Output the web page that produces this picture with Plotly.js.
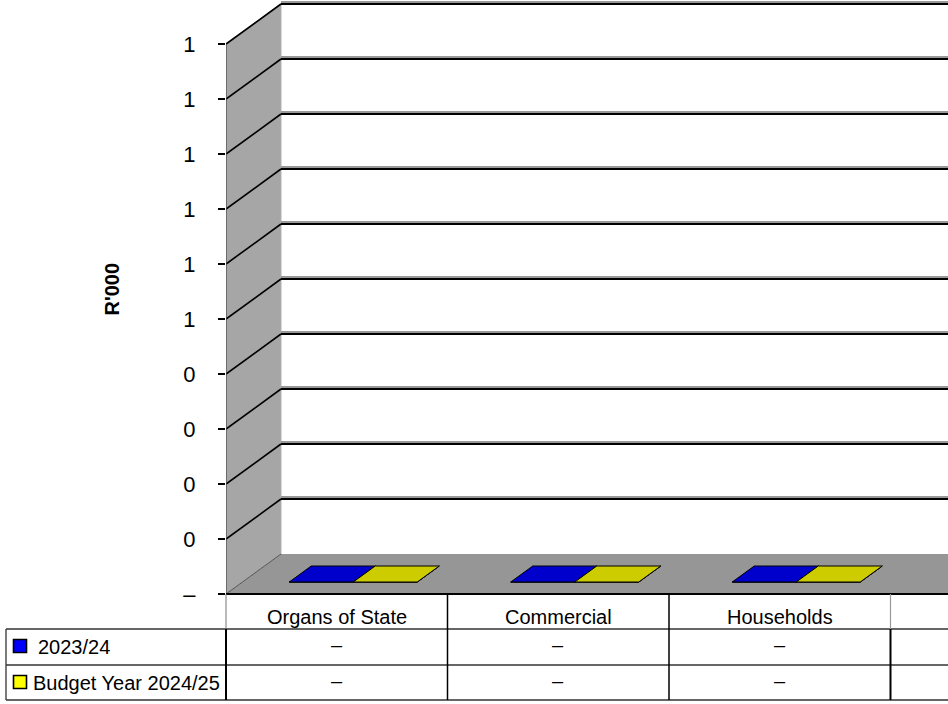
<!DOCTYPE html>
<html>
<head>
<meta charset="utf-8">
<script src="https://cdn.plot.ly/plotly-3.0.1.min.js"></script>
<style>html,body{margin:0;padding:0;background:#fff;}#chart{width:948px;height:704px;}</style>
</head>
<body>
<div id="chart"></div>
<script>
// ---------- DATA ----------
const categories = ['Organs of State', 'Commercial', 'Households'];
const seriesNames = ['2023/24', 'Budget Year 2024/25'];
const values2023 = [0, 0, 0];
const valuesBudget2024 = [0, 0, 0];
const yTickVals = [0, 0.1, 0.2, 0.3, 0.4, 0.5, 0.6, 0.7, 0.8, 0.9, 1.0];
const yTickText = ['–', '0', '0', '0', '0', '1', '1', '1', '1', '1', '1'];
const yAxisTitle = "R'000";

// ---------- STYLE / GEOMETRY ----------
const W = 948, H = 704;
const ML = 226, MB = 110;
const plotW = W - ML, plotH = H - MB;         // 722 x 594
const catPx = 221.5;                          // px per category
const valPx = 550;                            // px per unit value
const xRange = [-0.5, -0.5 + plotW / catPx];
const yRange = [0, plotH / valPx];
const DX = 55 / catPx;                        // depth offset in category units
const DY = 40 / valPx;                        // depth offset in value units
const barW = 64 / catPx;
const d1 = 0.3, d2 = 0.7;                     // bar depth band
const FONT = "'Liberation Sans', Arial, sans-serif";
const barColors = ['#0000CC', '#CCCC00'];
const keyColors = ['#0000FF', '#FFFF00'];
const seriesValues = [values2023, valuesBudget2024];

const px2paperX = px => (px - ML) / plotW;
const py2paperY = py => (plotH - py) / plotH;

function P(x, y, d) { return [x + d * DX, y + d * DY]; }

// ---------- TRACES (bars drawn from data) ----------
const traces = [];
seriesValues.forEach((vals, s) => {
  vals.forEach((v, i) => {
    const x0 = i - barW + s * barW, x1 = x0 + barW;
    const faces = [
      [P(x0, 0, d1), P(x1, 0, d1), P(x1, v, d1), P(x0, v, d1)],          // front
      [P(x1, 0, d1), P(x1, 0, d2), P(x1, v, d2), P(x1, v, d1)],          // side
      [P(x0, v, d1), P(x1, v, d1), P(x1, v, d2), P(x0, v, d2)]           // top
    ];
    faces.forEach(f => {
      const xs = f.map(p => p[0]); xs.push(xs[0]);
      const ys = f.map(p => p[1]); ys.push(ys[0]);
      traces.push({
        type: 'scatter', mode: 'lines', x: xs, y: ys, fill: 'toself',
        fillcolor: barColors[s], line: { color: '#000', width: 1 },
        hoverinfo: 'skip', showlegend: false
      });
    });
  });
});

// ---------- SHAPES (3D walls, grid, table) ----------
const shapes = [];
const xb = xRange[0] + DX;       // back-left x
const xEnd = 4;
// left wall
shapes.push({ type: 'path', xref: 'x', yref: 'y', layer: 'below',
  path: `M ${xRange[0]},0 L ${xRange[0]},1 L ${xb},${1 + DY} L ${xb},${DY} Z`,
  fillcolor: '#A6A6A6', line: { width: 0 } });
// floor
shapes.push({ type: 'path', xref: 'x', yref: 'y', layer: 'below',
  path: `M ${xRange[0]},0 L ${xb},${DY} L ${xEnd},${DY} L ${xEnd},0 Z`,
  fillcolor: '#969696', line: { width: 0 } });
// back wall left edge
shapes.push({ type: 'line', xref: 'x', yref: 'y', layer: 'below', x0: xb, x1: xb, y0: DY, y1: 1 + DY,
  line: { color: '#B0B0B0', width: 1 } });
// floor/wall edge
shapes.push({ type: 'line', xref: 'x', yref: 'y', layer: 'below', x0: xRange[0], x1: xb, y0: 0, y1: DY,
  line: { color: '#555', width: 1 } });
// left wall top edge
shapes.push({ type: 'line', xref: 'x', yref: 'y', layer: 'below', x0: xRange[0], x1: xb, y0: 1, y1: 1 + DY,
  line: { color: '#777', width: 1.2 } });
// gridlines
yTickVals.forEach(v => {
  if (v === 0) return;
  shapes.push({ type: 'line', xref: 'x', yref: 'y', layer: 'below', x0: xRange[0], x1: xb, y0: v, y1: v + DY,
    line: { color: '#000', width: 1.6 } });
  shapes.push({ type: 'line', xref: 'x', yref: 'y', layer: 'below', x0: xb, x1: xEnd, y0: v + DY + 0.0025, y1: v + DY + 0.0025,
    line: { color: '#999', width: 3.5 } });
  shapes.push({ type: 'line', xref: 'x', yref: 'y', layer: 'below', x0: xb, x1: xEnd, y0: v + DY, y1: v + DY,
    line: { color: '#000', width: 1.8 } });
});
// left wall front edge
shapes.push({ type: 'line', xref: 'x', yref: 'y', layer: 'above', x0: xRange[0], x1: xRange[0], y0: 0, y1: 1,
  line: { color: '#444', width: 1.2 } });

// table lines (paper coords)
const rowLines = [629, 665, 700];
shapes.push({ type: 'line', xref: 'paper', yref: 'paper', x0: 0, x1: 1, y0: py2paperY(594), y1: py2paperY(594),
  line: { color: '#000', width: 2 } });
rowLines.forEach(py => {
  shapes.push({ type: 'line', xref: 'paper', yref: 'paper', x0: px2paperX(6), x1: 1, y0: py2paperY(py), y1: py2paperY(py),
    line: { color: '#333', width: 1.3 } });
});
// legend column left border
shapes.push({ type: 'line', xref: 'paper', yref: 'paper', x0: px2paperX(6), x1: px2paperX(6),
  y0: py2paperY(629), y1: py2paperY(700), line: { color: '#333', width: 1.3 } });
// plot-left vertical line
shapes.push({ type: 'line', xref: 'paper', yref: 'paper', x0: 0, x1: 0,
  y0: py2paperY(594), y1: py2paperY(629), line: { color: '#777', width: 1 } });
shapes.push({ type: 'line', xref: 'paper', yref: 'paper', x0: 0, x1: 0,
  y0: py2paperY(629), y1: py2paperY(700), line: { color: '#000', width: 2 } });
// category boundaries
for (let i = 0; i < categories.length; i++) {
  const xc = i + 0.5;
  const last = (i === categories.length - 1);
  shapes.push({ type: 'line', xref: 'x', yref: 'paper', x0: xc, x1: xc,
    y0: py2paperY(594), y1: py2paperY(629), line: { color: last ? '#999' : '#000', width: last ? 1.2 : 1.5 } });
  shapes.push({ type: 'line', xref: 'x', yref: 'paper', x0: xc, x1: xc,
    y0: py2paperY(629), y1: py2paperY(700), line: { color: '#000', width: last ? 2 : 1.5 } });
}
// legend keys
const rowCenters = [646, 682];
seriesNames.forEach((n, s) => {
  const cy = rowCenters[s];
  shapes.push({ type: 'rect', xref: 'paper', yref: 'paper',
    x0: px2paperX(13.5), x1: px2paperX(26.5), y0: py2paperY(cy - 6.5), y1: py2paperY(cy + 6.5),
    fillcolor: keyColors[s], line: { color: '#000', width: 1.6 } });
});

// ---------- ANNOTATIONS (table text) ----------
const annotations = [];
const txtFont = { family: FONT, size: 20, color: '#000' };
categories.forEach((c, i) => {
  annotations.push({ xref: 'x', yref: 'paper', x: i, y: py2paperY(617), text: c, showarrow: false,
    xanchor: 'center', yanchor: 'middle', font: txtFont });
  seriesValues.forEach((vals, s) => {
    annotations.push({ xref: 'x', yref: 'paper', x: i, y: py2paperY(rowCenters[s] - 1),
      text: vals[i] === 0 ? '–' : String(vals[i]), showarrow: false,
      xanchor: 'center', yanchor: 'middle', font: txtFont });
  });
});
const keyTextX = [36, 31];
seriesNames.forEach((n, s) => {
  annotations.push({ xref: 'paper', yref: 'paper', x: px2paperX(keyTextX[s]), y: py2paperY(rowCenters[s] + 1),
    text: n, showarrow: false, xanchor: 'left', yanchor: 'middle', font: txtFont });
});
annotations.push({ xref: 'paper', yref: 'paper', x: px2paperX(111.5), y: py2paperY(289), text: '<b>' + yAxisTitle + '</b>',
  textangle: -90, showarrow: false, xanchor: 'center', yanchor: 'middle', font: { family: FONT, size: 20, color: '#000' } });

const layout = {
  width: W, height: H,
  margin: { l: ML, r: 0, t: 0, b: MB, pad: 0 },
  paper_bgcolor: '#fff', plot_bgcolor: '#fff',
  showlegend: false,
  font: { family: FONT, size: 20, color: '#000' },
  xaxis: { range: xRange, showgrid: false, zeroline: false, showline: false, showticklabels: false, ticks: '', fixedrange: true },
  yaxis: { range: yRange, showgrid: false, zeroline: false, showline: false,
    tickmode: 'array', tickvals: yTickVals, ticktext: yTickText,
    ticks: 'outside', ticklen: 7, tickwidth: 1.3, tickcolor: '#000', ticklabelstandoff: 18,
    tickfont: { family: FONT, size: 22, color: '#000' }, fixedrange: true },
  shapes: shapes,
  annotations: annotations
};

Plotly.newPlot('chart', traces, layout, { displayModeBar: false, staticPlot: true });
</script>
</body>
</html>
